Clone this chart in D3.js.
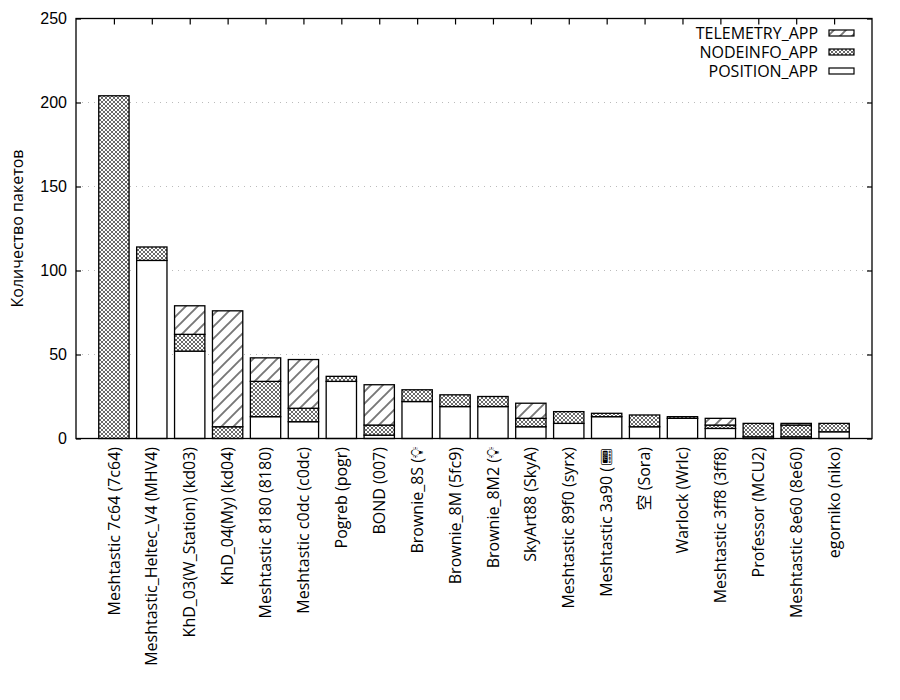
<!DOCTYPE html>
<html>
<head>
<meta charset="utf-8">
<script src="https://cdn.jsdelivr.net/npm/d3@7"></script>
<style>
  body { margin: 0; background: #fff; }
  svg { display: block; font-family: "Open Sans", "Noto Sans", "Noto Sans CJK SC", sans-serif; }
</style>
</head>
<body>
<svg id="chart" width="900" height="700"></svg>
<script>
const categories = [
  "Meshtastic 7c64 (7c64)", "Meshtastic_Heltec_V4 (MHV4)", "KhD_03(W_Station) (kd03)",
  "KhD_04(My) (kd04)", "Meshtastic 8180 (8180)", "Meshtastic c0dc (c0dc)", "Pogreb (pogr)",
  "BOND (007)", "Brownie_8S (💡\uFE0E", "Brownie_8M (5fc9)", "Brownie_8M2 (💡\uFE0E", "SkyArt88 (SkyA)",
  "Meshtastic 89f0 (syrx)", "Meshtastic 3a90 (📟\uFE0E", "空 (Sora)", "Warlock (Wrlc)",
  "Meshtastic 3ff8 (3ff8)", "Professor (MCU2)", "Meshtastic 8e60 (8e60)", "egorniko (niko)"
];
const positionApp  = [0, 106, 52, 0, 13, 10, 34, 2, 22, 19, 19, 7, 9, 13, 7, 12, 6, 1, 1, 4];
const nodeinfoApp  = [204, 8, 10, 7, 21, 8, 3, 6, 7, 7, 6, 5, 7, 2, 7, 1, 2, 8, 7, 5];
const telemetryApp = [0, 0, 17, 69, 14, 29, 0, 24, 0, 0, 0, 9, 0, 0, 0, 0, 4, 0, 1, 0];
const seriesNames = ["POSITION_APP", "NODEINFO_APP", "TELEMETRY_APP"];
const yTicks = [0, 50, 100, 150, 200, 250];
const yLabel = "Количество пакетов";

const svg = d3.select("#chart");
const L = 76, R = 872, T = 18.5, B = 438.5;
const fontSize = 16;

const defs = svg.append("defs");
const p1 = defs.append("pattern").attr("id", "pTele").attr("patternUnits", "userSpaceOnUse")
  .attr("width", 12).attr("height", 12);
p1.append("rect").attr("width", 12).attr("height", 12).attr("fill", "#fff");
p1.append("path").attr("d", "M-3,3 L3,-3 M0,12 L12,0 M9,15 L15,9")
  .attr("stroke", "#777").attr("stroke-width", 1.9);
const p2 = defs.append("pattern").attr("id", "pNode").attr("patternUnits", "userSpaceOnUse")
  .attr("width", 4).attr("height", 4);
p2.append("rect").attr("width", 4).attr("height", 4).attr("fill", "#fff");
p2.append("path").attr("d", "M0,0 L4,4 M4,0 L0,4")
  .attr("stroke", "#444").attr("stroke-width", 0.8);

const fills = { POSITION_APP: "#fff", NODEINFO_APP: "url(#pNode)", TELEMETRY_APP: "url(#pTele)" };

const x = d3.scaleLinear().domain([-1, categories.length]).range([L, R]);
const y = d3.scaleLinear().domain([0, 250]).range([B, T]);

const rows = categories.map((c, i) => ({
  POSITION_APP: positionApp[i], NODEINFO_APP: nodeinfoApp[i], TELEMETRY_APP: telemetryApp[i]
}));
const stacked = d3.stack().keys(seriesNames)(rows);

svg.append("g").selectAll("line").data(yTicks.filter(t => t > 0 && t < 250)).join("line")
  .attr("x1", L).attr("x2", R).attr("y1", d => y(d)).attr("y2", d => y(d))
  .attr("stroke", "#bbb").attr("stroke-width", 1).attr("stroke-dasharray", "1,5");

const bw = x(0.8) - x(0);
stacked.forEach(s => {
  svg.append("g").selectAll("rect").data(s.map((d, i) => ({ d, i })).filter(o => o.d[1] > o.d[0]))
    .join("rect")
    .attr("x", o => x(o.i) - bw / 2).attr("width", bw)
    .attr("y", o => y(o.d[1])).attr("height", o => y(o.d[0]) - y(o.d[1]))
    .attr("fill", fills[s.key]).attr("stroke", "#000").attr("stroke-width", 1.3);
});

const ay = svg.append("g").attr("transform", `translate(${L},0)`)
  .call(d3.axisLeft(y).tickValues(yTicks).tickSize(-5).tickPadding(9));
ay.select(".domain").remove();
ay.selectAll("line").attr("stroke", "#000").attr("stroke-width", 1.2);
ay.selectAll("text").attr("font-size", fontSize).attr("fill", "#000").attr("font-family", null);

const ayr = svg.append("g").attr("transform", `translate(${R},0)`)
  .call(d3.axisRight(y).tickValues(yTicks).tickSize(-5).tickFormat(""));
ayr.select(".domain").remove();
ayr.selectAll("line").attr("stroke", "#000").attr("stroke-width", 1.2);

const axt = svg.append("g").attr("transform", `translate(0,${T})`)
  .call(d3.axisTop(x).tickValues(d3.range(categories.length)).tickSize(-6).tickFormat(""));
axt.select(".domain").remove();
axt.selectAll("line").attr("stroke", "#000").attr("stroke-width", 1.2);

svg.append("rect").attr("x", L).attr("y", T).attr("width", R - L).attr("height", B - T)
  .attr("fill", "none").attr("stroke", "#000").attr("stroke-width", 1.3);

svg.append("g").selectAll("text").data(categories).join("text")
  .attr("transform", (d, i) => `translate(${x(i)},447) rotate(-90)`)
  .attr("text-anchor", "end").attr("dy", "0.35em")
  .attr("font-size", fontSize).text(d => d);

svg.append("text").attr("transform", `translate(17,${(T + B) / 2}) rotate(-90)`)
  .attr("text-anchor", "middle").attr("dy", "0.35em").attr("font-size", fontSize).text(yLabel);

const legendOrder = ["TELEMETRY_APP", "NODEINFO_APP", "POSITION_APP"];
const lg = svg.append("g");
legendOrder.forEach((k, j) => {
  const cy = 33 + j * 19;
  lg.append("text").attr("x", 818).attr("y", cy).attr("dy", "0.35em")
    .attr("text-anchor", "end").attr("font-size", fontSize).text(k);
  lg.append("rect").attr("x", 829).attr("y", cy - 3).attr("width", 25).attr("height", 6)
    .attr("fill", fills[k]).attr("stroke", "#000").attr("stroke-width", 1.2);
});
</script>
</body>
</html>
